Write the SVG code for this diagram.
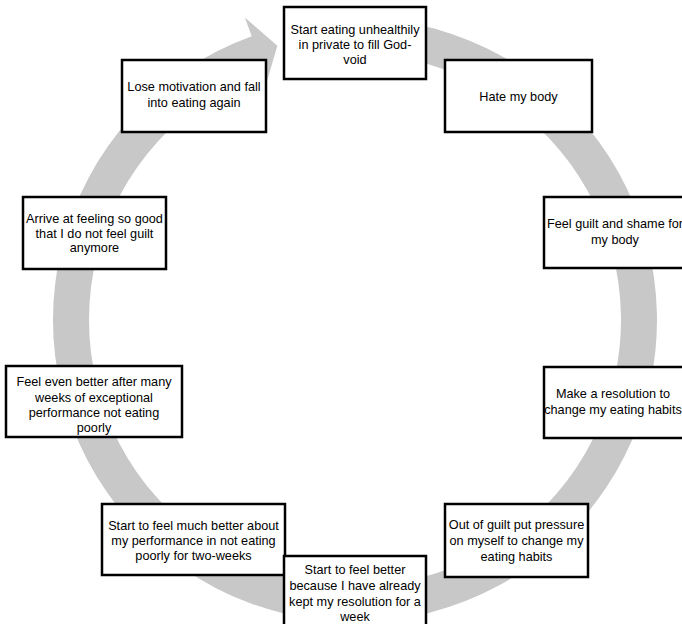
<svg xmlns="http://www.w3.org/2000/svg" width="682" height="624" viewBox="0 0 682 624">
<style>
.box{fill:#ffffff;stroke:#000000;stroke-width:2.5}
.t{font-family:"Liberation Sans",Arial,sans-serif;font-size:12.7px;fill:#000000;text-anchor:middle}
.ring{fill:#c8c8c8;stroke:none}
</style>
<rect width="682" height="624" fill="#ffffff"/>
<g id="connectors">
<path class="ring" d="M381.32,19.15 A302,302 0 1 1 251.71,36.21 L244.87,17.42 L277.4,45.8 L267.44,79.44 L264.02,70.04 A266,266 0 1 0 378.18,55.01 Z"/>
</g>
<g id="n1"><rect class="box" x="284" y="7" width="142" height="72"/>
<text class="t" x="355" y="33.5">Start eating unhealthily</text>
<text class="t" x="355" y="48.5">in private to fill God-</text>
<text class="t" x="355" y="63.5">void</text></g>
<g id="n2"><rect class="box" x="445" y="60" width="147" height="72"/>
<text class="t" x="518.5" y="100.5">Hate my body</text></g>
<g id="n3"><rect class="box" x="544" y="197" width="142" height="71"/>
<text class="t" x="615" y="228">Feel guilt and shame for</text>
<text class="t" x="615" y="244">my body</text></g>
<g id="n4"><rect class="box" x="544" y="367" width="142" height="71"/>
<text class="t" x="613" y="398">Make a resolution to</text>
<text class="t" x="613" y="414">change my eating habits</text></g>
<g id="n5"><rect class="box" x="445" y="504" width="143" height="73"/>
<text class="t" x="516.5" y="528.5">Out of guilt put pressure</text>
<text class="t" x="516.5" y="544.5">on myself to change my</text>
<text class="t" x="516.5" y="560.5">eating habits</text></g>
<g id="n7"><rect class="box" x="102" y="504" width="183" height="71"/>
<text class="t" x="193.5" y="529.5">Start to feel much better about</text>
<text class="t" x="193.5" y="545">my performance in not eating</text>
<text class="t" x="193.5" y="559.5">poorly for two-weeks</text></g>
<g id="n6"><rect class="box" x="284" y="556" width="142" height="72"/>
<text class="t" x="355" y="573.5">Start to feel better</text>
<text class="t" x="355" y="590">because I have already</text>
<text class="t" x="355" y="605.5">kept my resolution for a</text>
<text class="t" x="355" y="621">week</text></g>
<g id="n8"><rect class="box" x="6" y="366" width="176" height="71"/>
<text class="t" x="94" y="385.5">Feel even better after many</text>
<text class="t" x="94" y="401.5">weeks of exceptional</text>
<text class="t" x="94" y="417">performance not eating</text>
<text class="t" x="94" y="432">poorly</text></g>
<g id="n9"><rect class="box" x="23" y="197" width="143" height="72"/>
<text class="t" x="94.5" y="222.5">Arrive at feeling so good</text>
<text class="t" x="94.5" y="237.5">that I do not feel guilt</text>
<text class="t" x="94.5" y="252">anymore</text></g>
<g id="n10"><rect class="box" x="122" y="60" width="144" height="72"/>
<text class="t" x="194" y="91">Lose motivation and fall</text>
<text class="t" x="194" y="107">into eating again</text></g>
</svg>
